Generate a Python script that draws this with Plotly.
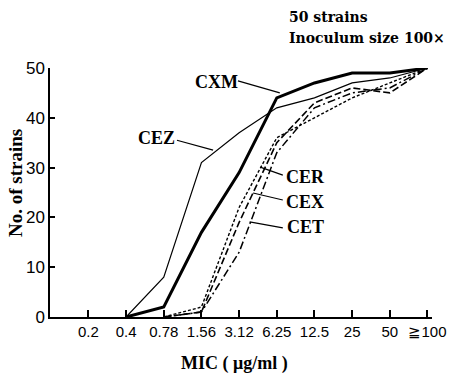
import plotly.graph_objects as go

# ---- data ----
mic_labels = ["0.2", "0.4", "0.78", "1.56", "3.12", "6.25", "12.5", "25", "50", "≧100"]
cxm = [None, 0, 2, 17, 29, 44, 47, 49, 49, 50]
cez = [None, 0, 8, 31, 37, 42, 44, 47, 48, 50]
cer = [None, None, 0, 2, 22, 36, 40, 44, 47, 50]
cex = [None, None, 0, 1, 19, 35, 43, 46, 45, 50]
cet = [None, None, 0, 1, 13, 33, 42, 45, 46, 50]
y_ticks = [0, 10, 20, 30, 40, 50]

xi = list(range(len(mic_labels)))

serif = "Liberation Serif, Times New Roman, serif"
dserif = "DejaVu Serif, serif"
narrow = "Liberation Sans Narrow, Arial Narrow, Liberation Sans, sans-serif"

fig = go.Figure()
series = [
    ("CEZ", cez, dict(color="black", width=1.2, dash="solid")),
    ("CER", cer, dict(color="black", width=1.4, dash="3px,2px")),
    ("CEX", cex, dict(color="black", width=1.6, dash="7px,3px")),
    ("CET", cet, dict(color="black", width=1.5, dash="8px,3px,2px,3px")),
    ("CXM", cxm, dict(color="black", width=3, dash="solid")),
]
for name, ys, ln in series:
    fig.add_trace(go.Scatter(x=xi, y=ys, mode="lines", name=name, line=ln,
                             connectgaps=False, showlegend=False))

# labels with leader lines: (text, text_x, text_y, line from (x0,y0) to (x1,y1))
labels = [
    ("CXM", 3.39, 47.2, 3.97, 47.4, 5.08, 45.0),
    ("CEZ", 1.80, 35.9, 2.35, 35.5, 3.31, 33.5),
    ("CER", 5.75, 28.1, 5.16, 28.5, 4.56, 30.1),
    ("CEX", 5.75, 23.1, 5.16, 23.5, 4.37, 24.9),
    ("CET", 5.75, 18.1, 5.16, 17.9, 4.28, 19.1),
]
for t, tx, ty, x0, y0, x1, y1 in labels:
    fig.add_annotation(x=tx, y=ty, xref="x", yref="y", text="<b>" + t + "</b>",
                       showarrow=False, font=dict(family=serif, size=18, color="black"))
    fig.add_shape(type="line", x0=x0, y0=y0, x1=x1, y1=y1, xref="x", yref="y",
                  line=dict(color="black", width=1.2))

W, H = 451, 375
L, R, T, B = 50, 19, 68, 58


def paper(px, py):
    return (px - L) / (W - L - R), 1 - (py - T) / (H - T - B)


for txt, py in [("50 strains", 17), ("Inoculum size 100×", 38)]:
    ax, ay = paper(287, py)
    fig.add_annotation(x=ax, y=ay, xref="paper", yref="paper", text="<b>" + txt + "</b>",
                       showarrow=False, xanchor="left", yanchor="middle",
                       font=dict(family=dserif, size=14, color="black"))

# axis titles as annotations (fixed positions)
ax, ay = paper(234, 363)
fig.add_annotation(x=ax, y=ay, xref="paper", yref="paper", text="<b>MIC ( μg/ml )</b>",
                   showarrow=False, xanchor="center", yanchor="middle",
                   font=dict(family=serif, size=18, color="black"))
ax, ay = paper(15, 183)
fig.add_annotation(x=ax, y=ay, xref="paper", yref="paper", text="<b>No. of strains</b>",
                   showarrow=False, xanchor="center", yanchor="middle", textangle=-90,
                   font=dict(family=serif, size=19, color="black"))

fig.update_layout(
    width=W, height=H,
    margin=dict(l=L, r=R, t=T, b=B, autoexpand=False),
    plot_bgcolor="white", paper_bgcolor="white",
    xaxis=dict(range=[-1.02, 9.12], tickmode="array", tickvals=xi, ticktext=mic_labels,
               showline=True, linecolor="black", linewidth=1.5, showgrid=False, zeroline=False,
               ticks="inside", ticklen=7, tickwidth=1.5, tickcolor="black",
               tickfont=dict(family=narrow, size=15, color="black"),
               automargin=False, fixedrange=True),
    yaxis=dict(range=[0, 50], tickmode="array", tickvals=y_ticks,
               showline=True, linecolor="black", linewidth=1.5, showgrid=False, zeroline=False,
               ticks="inside", ticklen=5, tickwidth=1.5, tickcolor="black",
               tickfont=dict(family=narrow, size=17, color="black"),
               automargin=False, fixedrange=True),
)

fig.write_html("out.html")
